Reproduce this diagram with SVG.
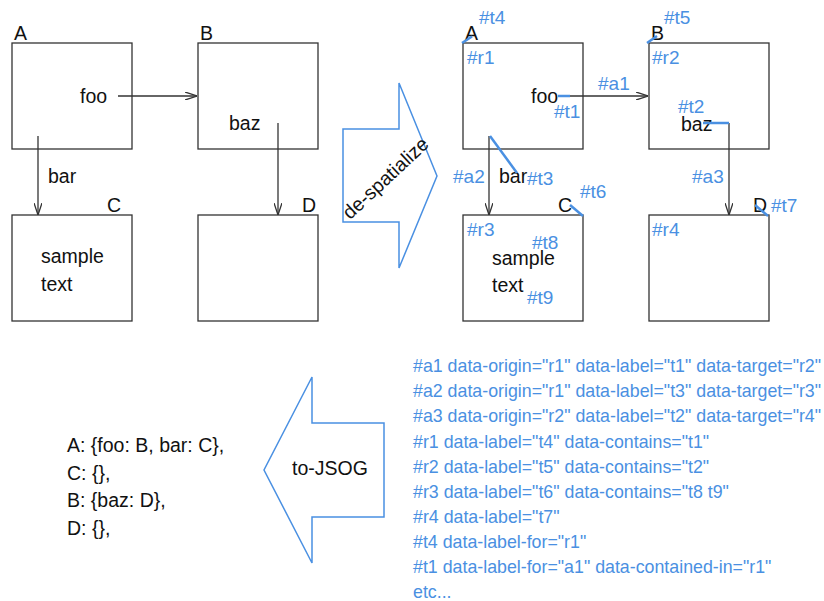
<svg xmlns="http://www.w3.org/2000/svg" width="824" height="601" viewBox="0 0 824 601">
<style>
.box{fill:#fff;stroke:#333;stroke-width:1.3}
.edge{fill:none;stroke:#333;stroke-width:1.3}
.t{font-family:"Liberation Sans",Arial,sans-serif;font-size:19.5px;fill:#111}
.b{font-family:"Liberation Sans",Arial,sans-serif;font-size:19px;fill:#4a90e2}
.code{font-family:"Liberation Sans",Arial,sans-serif;font-size:17.8px;fill:#4a90e2}
.link{fill:none;stroke:#4a90e2;stroke-width:2.5}
.big{fill:#fff;stroke:#4a90e2;stroke-width:1.5}
</style>
<defs>
<marker id="ah" markerUnits="userSpaceOnUse" viewBox="0 0 12 8" refX="12" refY="4" markerWidth="12" markerHeight="8" orient="auto">
<path d="M0,0 L12,4 L0,8" fill="none" stroke="#333" stroke-width="1.3"/>
</marker>
</defs>
<rect width="824" height="601" fill="#fff"/>

<!-- left graph -->
<g id="nodeA"><rect class="box" x="12" y="43" width="120" height="106"/><text class="t" x="14" y="40">A</text><text class="t" x="80" y="103">foo</text></g>
<g id="nodeB"><rect class="box" x="198" y="43" width="120" height="106"/><text class="t" x="200" y="40">B</text><text class="t" x="229" y="130">baz</text></g>
<g id="nodeC"><rect class="box" x="12" y="215" width="120" height="106"/><text class="t" x="107" y="212">C</text><text class="t" x="41" y="263">sample</text><text class="t" x="41" y="291">text</text></g>
<g id="nodeD"><rect class="box" x="198" y="215" width="120" height="106"/><text class="t" x="302" y="212">D</text></g>
<g id="labelBar"><text class="t" x="48" y="183">bar</text></g>

<!-- right graph -->
<g id="r1"><rect class="box" x="463" y="43" width="120" height="106"/><text class="t" x="465" y="40">A</text><text class="t" x="531" y="103">foo</text><text class="b" x="467" y="64">#r1</text><text class="b" x="479" y="24">#t4</text><text class="b" x="554" y="118">#t1</text></g>
<g id="r2"><rect class="box" x="649" y="43" width="120" height="106"/><text class="t" x="651" y="40">B</text><text class="t" x="681" y="131">baz</text><text class="b" x="678" y="113">#t2</text><text class="b" x="652" y="64">#r2</text><text class="b" x="664" y="24">#t5</text></g>
<g id="r3"><rect class="box" x="463" y="215" width="120" height="106"/><text class="t" x="558" y="212">C</text><text class="t" x="492" y="265">sample</text><text class="t" x="492" y="292">text</text><text class="b" x="467" y="236">#r3</text><text class="b" x="580" y="198">#t6</text><text class="b" x="532" y="249">#t8</text><text class="b" x="527" y="304">#t9</text></g>
<g id="r4"><rect class="box" x="649" y="215" width="120" height="106"/><text class="t" x="753" y="212">D</text><text class="b" x="652" y="236">#r4</text><text class="b" x="771" y="212">#t7</text></g>
<g id="labelsA"><text class="t" x="499" y="183">bar</text><text class="b" x="598" y="90">#a1</text><text class="b" x="453" y="183">#a2</text><text class="b" x="527" y="185">#t3</text><text class="b" x="692" y="183">#a3</text></g>

<g id="connectors">
<line class="edge" x1="118" y1="96" x2="197" y2="96" marker-end="url(#ah)"/>
<line class="edge" x1="38" y1="136" x2="38" y2="215" marker-end="url(#ah)"/>
<line class="edge" x1="278" y1="123" x2="278" y2="215" marker-end="url(#ah)"/>
<line class="edge" x1="569" y1="96" x2="648" y2="96" marker-end="url(#ah)"/>
<line class="edge" x1="489" y1="136" x2="489" y2="215" marker-end="url(#ah)"/>
<line class="edge" x1="729" y1="123" x2="729" y2="215" marker-end="url(#ah)"/>
<line class="link" x1="462" y1="43" x2="472" y2="36.5"/>
<line class="link" x1="647" y1="43" x2="657" y2="36"/>
<line class="link" x1="558" y1="96" x2="570" y2="96"/>
<line class="link" x1="703" y1="123" x2="729" y2="123"/>
<line class="link" x1="490" y1="136" x2="517" y2="173"/>
<line class="link" x1="570" y1="205" x2="583" y2="216"/>
<line class="link" x1="755" y1="205" x2="768" y2="216"/>
</g>

<g id="despatialize">
<polygon class="big" points="343,129 399,129 399,83 437,176 399,268 399,222 343,222"/>
<text class="t" font-size="20" text-anchor="middle" transform="translate(390,183) rotate(-43)">de-spatialize</text>
</g>

<g id="toJSOG">
<polygon class="big" points="312,377 312,423 384,423 384,517 312,517 312,563 264,470"/>
<text class="t" x="292" y="475">to-JSOG</text>
</g>

<g id="json">
<text class="t" x="67" y="452">A: {foo: B, bar: C},</text>
<text class="t" x="67" y="480">C: {},</text>
<text class="t" x="67" y="507">B: {baz: D},</text>
<text class="t" x="67" y="535">D: {},</text>
</g>

<g id="attrs">
<text class="code" x="413" y="372">#a1 data-origin="r1" data-label="t1" data-target="r2"</text>
<text class="code" x="413" y="397">#a2 data-origin="r1" data-label="t3" data-target="r3"</text>
<text class="code" x="413" y="422">#a3 data-origin="r2" data-label="t2" data-target="r4"</text>
<text class="code" x="413" y="448">#r1 data-label="t4" data-contains="t1"</text>
<text class="code" x="413" y="473">#r2 data-label="t5" data-contains="t2"</text>
<text class="code" x="413" y="498">#r3 data-label="t6" data-contains="t8 t9"</text>
<text class="code" x="413" y="523">#r4 data-label="t7"</text>
<text class="code" x="413" y="548">#t4 data-label-for="r1"</text>
<text class="code" x="413" y="573">#t1 data-label-for="a1" data-contained-in="r1"</text>
<text class="code" x="413" y="598">etc...</text>
</g>
</svg>
